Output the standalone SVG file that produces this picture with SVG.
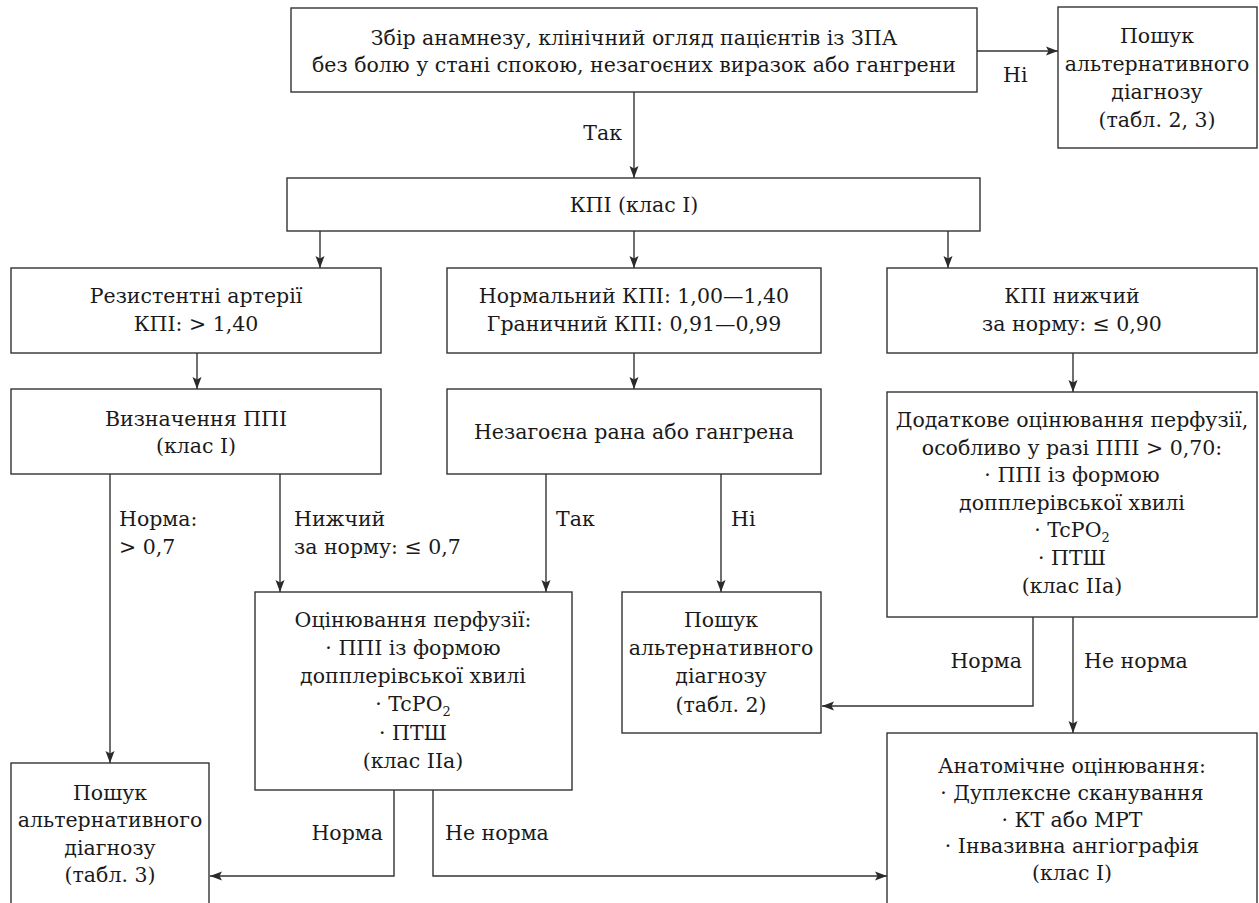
<svg xmlns="http://www.w3.org/2000/svg" width="1259" height="903" viewBox="0 0 1259 903">
<defs>
<marker id="ah" markerUnits="userSpaceOnUse" markerWidth="12" markerHeight="10" viewBox="0 0 12 10" refX="12" refY="5" orient="auto">
<path d="M0,0.5 L12,5 L0,9.5 L2.5,5 z" fill="#2a2a2a"/>
</marker>
</defs>
<style>
.box{fill:#fff;stroke:#333;stroke-width:1.4}
.t{font-family:"DejaVu Serif","Liberation Serif",serif;font-size:20.5px;fill:#1a1a1a;text-anchor:middle}
.l{font-family:"DejaVu Serif","Liberation Serif",serif;font-size:20.5px;fill:#1a1a1a}
.r{text-anchor:end}
.c{fill:none;stroke:#333;stroke-width:1.4}
.a{marker-end:url(#ah)}
</style>
<rect width="1259" height="903" fill="#fff"/>

<g id="connectors">
<line class="c a" x1="977" y1="51" x2="1058" y2="51"/>
<line class="c a" x1="634" y1="92" x2="634" y2="178"/>
<line class="c a" x1="320" y1="231" x2="320" y2="268"/>
<line class="c a" x1="634" y1="231" x2="634" y2="268"/>
<line class="c a" x1="948" y1="231" x2="948" y2="268"/>
<line class="c a" x1="197" y1="353" x2="197" y2="389"/>
<line class="c a" x1="634" y1="353" x2="634" y2="389"/>
<line class="c a" x1="1073" y1="353" x2="1073" y2="392"/>
<line class="c a" x1="110" y1="474" x2="110" y2="763"/>
<line class="c a" x1="280" y1="474" x2="280" y2="592"/>
<line class="c a" x1="546" y1="474" x2="546" y2="592"/>
<line class="c a" x1="721" y1="474" x2="721" y2="592"/>
<polyline class="c a" points="1033,617 1033,706 822,706"/>
<line class="c a" x1="1073" y1="617" x2="1073" y2="733"/>
<polyline class="c a" points="394,790 394,876 210,876"/>
<polyline class="c a" points="433,790 433,876 887,876"/>
<text class="l" x="1003" y="82">Ні</text>
<text class="l r" x="622" y="140">Так</text>
<text class="l" x="119" y="526">Норма:</text>
<text class="l" x="119" y="554">&gt; 0,7</text>
<text class="l" x="294" y="526">Нижчий</text>
<text class="l" x="294" y="554">за норму: ≤ 0,7</text>
<text class="l" x="556" y="526">Так</text>
<text class="l" x="731" y="526">Ні</text>
<text class="l r" x="1022" y="668">Норма</text>
<text class="l" x="1084" y="668">Не норма</text>
<text class="l r" x="383" y="840">Норма</text>
<text class="l" x="445" y="840">Не норма</text>
</g>

<g id="n-start">
<rect class="box" x="291" y="8" width="686" height="84"/>
<text class="t" x="634" y="45">Збір анамнезу, клінічний огляд пацієнтів із ЗПА</text>
<text class="t" x="634" y="72">без болю у стані спокою, незагоєних виразок або гангрени</text>
</g>

<g id="n-alt23">
<rect class="box" x="1058" y="7" width="199" height="141"/>
<text class="t" x="1157" y="43">Пошук</text>
<text class="t" x="1157" y="71">альтернативного</text>
<text class="t" x="1157" y="99">діагнозу</text>
<text class="t" x="1157" y="127">(табл. 2, 3)</text>
</g>

<g id="n-kpi">
<rect class="box" x="287" y="178" width="693" height="53"/>
<text class="t" x="634" y="212">КПІ (клас І)</text>
</g>

<g id="n-resist">
<rect class="box" x="11" y="268" width="370" height="85"/>
<text class="t" x="196" y="303">Резистентні артерії</text>
<text class="t" x="196" y="331">КПІ: &gt; 1,40</text>
</g>

<g id="n-normal">
<rect class="box" x="447" y="268" width="374" height="85"/>
<text class="t" x="634" y="303">Нормальний КПІ: 1,00—1,40</text>
<text class="t" x="634" y="331">Граничний КПІ: 0,91—0,99</text>
</g>

<g id="n-low">
<rect class="box" x="887" y="268" width="370" height="85"/>
<text class="t" x="1072" y="303">КПІ нижчий</text>
<text class="t" x="1072" y="331">за норму: ≤ 0,90</text>
</g>

<g id="n-ppi">
<rect class="box" x="11" y="389" width="370" height="85"/>
<text class="t" x="196" y="426">Визначення ППІ</text>
<text class="t" x="196" y="453">(клас І)</text>
</g>

<g id="n-wound">
<rect class="box" x="447" y="389" width="374" height="85"/>
<text class="t" x="634" y="439">Незагоєна рана або гангрена</text>
</g>

<g id="n-extra">
<rect class="box" x="887" y="392" width="370" height="225"/>
<text class="t" x="1072" y="427">Додаткове оцінювання перфузії,</text>
<text class="t" x="1072" y="455">особливо у разі ППІ &gt; 0,70:</text>
<text class="t" x="1072" y="482">· ППІ із формою</text>
<text class="t" x="1072" y="510">допплерівської хвилі</text>
<text class="t" x="1072" y="537">· TcPO<tspan font-size="13" dy="5">2</tspan></text>
<text class="t" x="1072" y="565">· ПТШ</text>
<text class="t" x="1072" y="593">(клас IIa)</text>
</g>

<g id="n-perf">
<rect class="box" x="255" y="592" width="317" height="198"/>
<text class="t" x="413" y="627">Оцінювання перфузії:</text>
<text class="t" x="413" y="655">· ППІ із формою</text>
<text class="t" x="413" y="683">допплерівської хвилі</text>
<text class="t" x="413" y="711">· TcPO<tspan font-size="13" dy="5">2</tspan></text>
<text class="t" x="413" y="740">· ПТШ</text>
<text class="t" x="413" y="768">(клас IIa)</text>
</g>

<g id="n-alt2">
<rect class="box" x="622" y="592" width="199" height="141"/>
<text class="t" x="721" y="627">Пошук</text>
<text class="t" x="721" y="655">альтернативного</text>
<text class="t" x="721" y="683">діагнозу</text>
<text class="t" x="721" y="712">(табл. 2)</text>
</g>

<g id="n-alt3">
<rect class="box" x="11" y="763" width="198" height="150"/>
<text class="t" x="110" y="800">Пошук</text>
<text class="t" x="110" y="827">альтернативного</text>
<text class="t" x="110" y="855">діагнозу</text>
<text class="t" x="110" y="882">(табл. 3)</text>
</g>

<g id="n-anat">
<rect class="box" x="887" y="733" width="370" height="180"/>
<text class="t" x="1072" y="773">Анатомічне оцінювання:</text>
<text class="t" x="1072" y="800">· Дуплексне сканування</text>
<text class="t" x="1072" y="827">· КТ або МРТ</text>
<text class="t" x="1072" y="853">· Інвазивна ангіографія</text>
<text class="t" x="1072" y="880">(клас І)</text>
</g>
</svg>
